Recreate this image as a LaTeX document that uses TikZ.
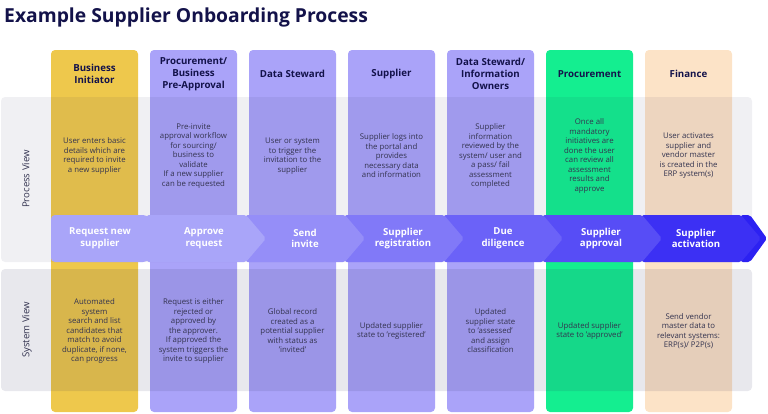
\documentclass[tikz,border=0pt]{standalone}
\usepackage{fontspec}
\setmainfont{Open Sans}
\usepackage{xcolor}
\usepackage{tikz}

\definecolor{ttl}{HTML}{13124A}
\definecolor{ink}{HTML}{33334F}
\definecolor{cYel}{HTML}{EEC84C}
\definecolor{cLav}{HTML}{AAA3F9}
\definecolor{cGrn}{HTML}{14EE90}
\definecolor{cPch}{HTML}{FCE3C7}
\definecolor{bnd}{HTML}{1E1E50}
\definecolor{s1}{HTML}{A9A5F9}
\definecolor{s2}{HTML}{958EF8}
\definecolor{s3}{HTML}{8179F8}
\definecolor{s4}{HTML}{6B62F8}
\definecolor{s5}{HTML}{574DF6}
\definecolor{s6}{HTML}{3C30F4}
\definecolor{s7}{HTML}{2C21F2}

\begin{document}
\begin{tikzpicture}[x=1pt, y=-1pt,
  col/.style={rectangle, rounded corners=4pt, minimum width=87pt, minimum height=362pt, inner sep=0pt},
  hd/.style={align=center, text=ttl, font=\bfseries\fontsize{9.7}{12.3}\selectfont, inner sep=0pt},
  tx/.style={align=center, text=ink, font=\fontsize{7.8}{9.5}\selectfont, inner sep=0pt},
  stp/.style={align=center, text=white, font=\bfseries\fontsize{9.6}{11.7}\selectfont, inner sep=0pt},
  vw/.style={rotate=90, text=ink, font=\fontsize{9.6}{11}\selectfont, inner sep=0pt}]
\useasboundingbox (0,0) rectangle (768,413);

% title
\node[anchor=west, text=ttl, font=\bfseries\fontsize{19.3}{22}\selectfont, inner sep=0pt] (title) at (4,17) {Example Supplier Onboarding Process};

% columns
\node[col, fill=cYel] (col1) at (94.5,231) {};
\node[col, fill=cLav] (col2) at (193.5,231) {};
\node[col, fill=cLav] (col3) at (292.5,231) {};
\node[col, fill=cLav] (col4) at (391.5,231) {};
\node[col, fill=cLav] (col5) at (490.5,231) {};
\node[col, fill=cGrn] (col6) at (589.5,231) {};
\node[col, fill=cPch] (col7) at (688.5,231) {};

% view bands
\fill[bnd, opacity=0.065, rounded corners=4pt] (1,97) rectangle (752,262);
\fill[bnd, opacity=0.1, rounded corners=4pt] (1,269) rectangle (752,391);
\node[vw] (pv) at (26,179) {Process View};
\node[vw] (sv) at (27,330) {System View};

% step arrow, right to left
\fill[s7, rounded corners=2pt] (741,215) -- (750,215) -- (767,238.5) -- (750,262) -- (741,262) -- cycle;
\fill[s6, rounded corners=2pt] (642,215) -- (741,215) -- (761,238.5) -- (741,262) -- (642,262) -- cycle;
\fill[s5, rounded corners=2pt] (543,215) -- (642,215) -- (662,238.5) -- (642,262) -- (543,262) -- cycle;
\fill[s4, rounded corners=2pt] (444,215) -- (543,215) -- (563,238.5) -- (543,262) -- (444,262) -- cycle;
\fill[s3, rounded corners=2pt] (345,215) -- (444,215) -- (464,238.5) -- (444,262) -- (345,262) -- cycle;
\fill[s2, rounded corners=2pt] (246,215) -- (345,215) -- (365,238.5) -- (345,262) -- (246,262) -- cycle;
\fill[s1, rounded corners=2pt] (147,215) -- (246,215) -- (266,238.5) -- (246,262) -- (147,262) -- cycle;
\fill[s1, rounded corners=4pt] (51,215) -- (147,215) -- (167,238.5) -- (147,262) -- (51,262) -- cycle;

% headers
\node[hd] (h1) at (94.5,74) {Business\\Initiator};
\node[hd] (h2) at (193.5,74) {Procurement/\\Business\\Pre-Approval};
\node[hd] (h3) at (292.5,74) {Data Steward};
\node[hd] (h4) at (391.5,74) {Supplier};
\node[hd] (h5) at (490.5,74) {Data Steward/\\Information\\Owners};
\node[hd] (h6) at (589.5,74) {Procurement};
\node[hd] (h7) at (688.5,74) {Finance};

% process view
\node[tx] (p1) at (94.5,156) {User enters basic\\details which are\\required to invite\\a new supplier};
\node[tx] (p2) at (193.5,156) {Pre-invite\\approval workflow\\for sourcing/\\business to\\validate\\If a new supplier\\can be requested};
\node[tx] (p3) at (292.5,156) {User or system\\to trigger the\\invitation to the\\supplier};
\node[tx] (p4) at (391.5,156) {Supplier logs into\\the portal and\\provides\\necessary data\\and information};
\node[tx] (p5) at (490.5,156) {Supplier\\information\\reviewed by the\\system/ user and\\a pass/ fail\\assessment\\completed};
\node[tx] (p6) at (589.5,156) {Once all\\mandatory\\initiatives are\\done the user\\can review all\\assessment\\results and\\approve};
\node[tx] (p7) at (688.5,156) {User activates\\supplier and\\vendor master\\is created in the\\ERP system(s)};

% steps
\node[stp] (a1) at (100,238.5) {Request new\\supplier};
\node[stp] (a2) at (204,238.5) {Approve\\request};
\node[stp] (a3) at (305,238.5) {Send\\invite};
\node[stp] (a4) at (403,238.5) {Supplier\\registration};
\node[stp] (a5) at (503,238.5) {Due\\diligence};
\node[stp] (a6) at (601,238.5) {Supplier\\approval};
\node[stp] (a7) at (696,238.5) {Supplier\\activation};

% system view
\node[tx] (q1) at (94.5,331) {Automated\\system\\search and list\\candidates that\\match to avoid\\duplicate, if none,\\can progress};
\node[tx] (q2) at (193.5,331) {Request is either\\rejected or\\approved by\\the approver.\\If approved the\\system triggers the\\invite to supplier};
\node[tx] (q3) at (292.5,331) {Global record\\created as a\\potential supplier\\with status as\\'invited'};
\node[tx] (q4) at (391.5,331) {Updated supplier\\state to 'registered'};
\node[tx] (q5) at (490.5,331) {Updated\\supplier state\\to 'assessed'\\and assign\\classification};
\node[tx] (q6) at (589.5,331) {Updated supplier\\state to 'approved'};
\node[tx] (q7) at (688.5,331) {Send vendor\\master data to\\relevant systems:\\ERP(s)/ P2P(s)};
\end{tikzpicture}
\end{document}
